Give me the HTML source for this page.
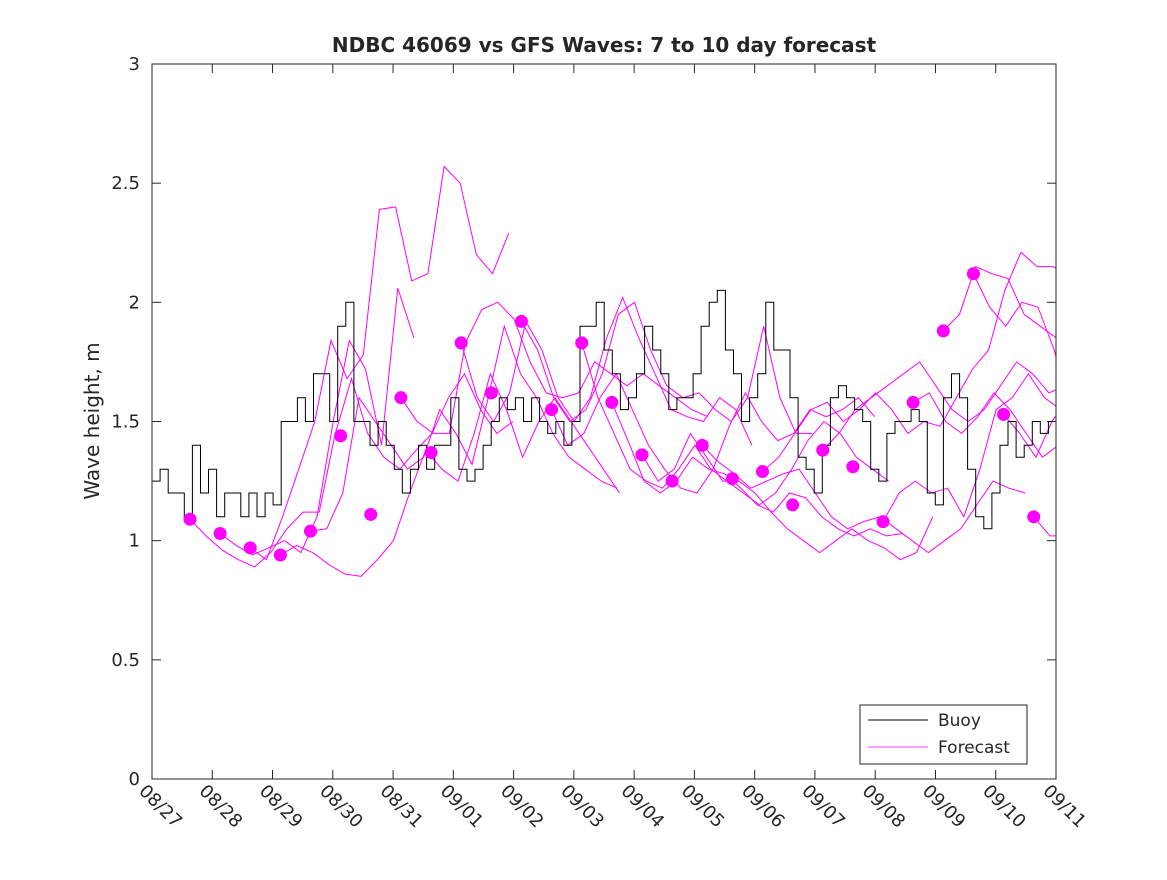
<!DOCTYPE html>
<html><head><meta charset="utf-8"><style>
body{margin:0;background:#fff;}
svg text{font-family:"DejaVu Sans","Liberation Sans",sans-serif;fill:#262626;}
</style></head><body>
<svg id="chart" width="1167" height="875" xmlns="http://www.w3.org/2000/svg">
<defs><clipPath id="pc"><rect x="152" y="64" width="904" height="715"/></clipPath></defs>
<rect x="0" y="0" width="1167" height="875" fill="#fff"/>
<text x="604" y="52" text-anchor="middle" font-size="20" font-weight="bold" fill="#000">NDBC 46069 vs GFS Waves: 7 to 10 day forecast</text>
<text transform="translate(99,421) rotate(-90)" text-anchor="middle" font-size="20">Wave height, m</text>
<g id="axes"></g>
<g id="marks" clip-path="url(#pc)"></g>
<rect x="152" y="64" width="904" height="715" fill="none" stroke="#262626" stroke-width="1"/>
<g>
<rect x="860" y="705" width="167" height="59" fill="#fff" stroke="#262626"/>
<line x1="868" y1="720" x2="928" y2="720" stroke="#000"/>
<text x="938" y="726" font-size="17">Buoy</text>
<line x1="868" y1="747" x2="928" y2="747" stroke="#f0f" stroke-width="0.8"/>
<text x="938" y="753" font-size="17">Forecast</text>
</g>
</svg>
<script>
const xTickLabels=["08/27","08/28","08/29","08/30","08/31","09/01","09/02","09/03","09/04","09/05","09/06","09/07","09/08","09/09","09/10","09/11"];
const yTicks=[0,0.5,1,1.5,2,2.5,3];
const buoyStep=0.134;
const buoyVals=[1.25,1.3,1.2,1.2,1.1,1.4,1.2,1.3,1.1,1.2,1.2,1.1,1.2,1.1,1.2,1.15,1.5,1.5,1.6,1.5,1.7,1.7,1.5,1.9,2.0,1.5,1.5,1.4,1.5,1.4,1.3,1.2,1.3,1.4,1.3,1.4,1.4,1.6,1.3,1.25,1.3,1.4,1.5,1.6,1.55,1.6,1.5,1.6,1.5,1.45,1.5,1.4,1.5,1.9,1.9,2.0,1.8,1.7,1.55,1.6,1.7,1.9,1.8,1.7,1.55,1.6,1.6,1.7,1.9,2.0,2.05,1.8,1.7,1.5,1.6,1.7,2.0,1.8,1.8,1.6,1.35,1.3,1.2,1.4,1.6,1.65,1.6,1.55,1.5,1.3,1.25,1.45,1.5,1.5,1.55,1.5,1.2,1.15,1.6,1.7,1.6,1.3,1.1,1.05,1.2,1.4,1.5,1.35,1.4,1.5,1.45,1.5,1.5];
const markerStart=0.63, markerStep=0.5;
const markerVals=[1.09,1.03,0.97,0.94,1.04,1.44,1.11,1.60,1.37,1.83,1.62,1.92,1.55,1.83,1.58,1.36,1.25,1.40,1.26,1.29,1.15,1.38,1.31,1.08,1.58,1.88,2.12,1.53,1.10];
const fcStep=0.268;
const fcStartMarker=[0,1,2,3,4,7,9,11,12,13,14,15,17,19,21,23,24,25,26,27,28];
const fcVals=[
[1.09,1.02,0.96,0.92,0.89,0.95,1.05,1.12,1.12,1.45,1.68,1.45,1.35,1.3,1.38,1.45,1.6,1.7,1.55,1.45,1.5],
[1.03,0.98,0.94,0.97,1.0,0.95,1.1,1.5,1.84,1.72,1.4,2.06,1.85],
[0.97,0.92,1.1,1.3,1.5,1.84,1.68,1.78,2.39,2.4,2.09,2.12,2.57,2.5,2.2,2.12,2.29],
[0.94,0.98,0.95,0.90,0.86,0.85,0.92,1.0,1.2,1.38,1.3,1.25,1.45,1.7,1.55,1.35,1.5,1.6,1.5,1.4,1.3,1.2],
[1.04,1.05,1.2,1.6,1.5,1.4,1.3,1.35,1.55,1.45,1.32,1.6,1.9,1.7,1.6,1.45,1.35,1.3,1.25,1.22],
[1.60,1.5,1.45,1.45,1.83,1.97,2.0,1.93,1.75,1.62,1.6,1.62,1.75,1.7,1.65,1.7,1.65,1.6,1.55,1.52],
[1.83,1.6,1.5,1.62,1.92,1.8,1.6,1.5,1.6,1.85,2.02,1.85,1.7,1.55,1.52,1.5,1.6,1.55,1.4],
[1.92,1.8,1.6,1.5,1.55,1.7,1.95,2.0,1.8,1.65,1.6,1.62,1.55,1.5,1.6,1.9,1.6,1.45,1.45],
[1.55,1.4,1.45,1.6,1.7,1.55,1.4,1.3,1.22,1.2,1.3,1.48,1.62,1.5,1.42,1.45,1.55,1.52,1.55,1.6,1.52],
[1.83,1.6,1.45,1.3,1.25,1.22,1.3,1.4,1.3,1.25,1.2,1.15,1.2,1.3,1.42,1.5,1.45,1.35,1.3,1.25],
[1.58,1.42,1.25,1.2,1.25,1.35,1.3,1.28,1.22,1.15,1.12,1.2,1.18,1.1,1.05,1.02,1.05,1.02,1.03],
[1.36,1.25,1.3,1.45,1.35,1.25,1.25,1.2,1.12,1.05,1.0,0.95,1.0,1.05,1.0,0.97,0.92,0.95,1.1],
[1.40,1.33,1.28,1.22,1.25,1.28,1.3,1.2,1.1,1.05,1.08,1.1,1.05,1.0,0.95,1.0,1.05,1.15,1.25,1.22,1.2],
[1.29,1.35,1.45,1.55,1.58,1.5,1.55,1.62,1.55,1.45,1.5,1.48,1.6,1.72,1.8,2.05,2.21,2.15,2.15,2.1],
[1.38,1.45,1.55,1.6,1.65,1.7,1.75,1.65,1.55,1.5,1.55,1.65,1.75,1.7,1.62,1.65,1.6,1.5,1.4],
[1.08,1.2,1.25,1.2,1.22,1.1,1.3,1.55,1.6,1.7,1.6,1.55,1.65,1.72,1.6,1.5,1.45],
[1.58,1.62,1.5,1.45,1.52,1.62,1.55,1.45,1.35,1.4,1.5,1.45,1.55,1.35,1.4,1.42],
[1.88,1.95,2.15,2.12,2.1,1.95,1.9,1.85,1.72,1.6,1.45,1.35,1.33,1.38],
[2.12,1.98,1.9,2.0,1.98,1.8,1.55,1.45,1.5,1.6,1.68,1.67],
[1.53,1.45,1.35,1.5,1.6,1.5,1.45,1.5,1.55],
[1.10,1.02,1.02,1.12]
];
const NS="http://www.w3.org/2000/svg";
const X0=152,X1=1056,Y0=779,Y1=64,DAYS=15,YMAX=3;
function xs(d){return X0+(X1-X0)*d/DAYS;}
function ys(v){return Y0-(Y0-Y1)*v/YMAX;}
const axes=document.getElementById('axes'),marks=document.getElementById('marks');
function mk(tag,attrs,parent){const e=document.createElementNS(NS,tag);for(const k in attrs)e.setAttribute(k,attrs[k]);parent.appendChild(e);return e;}
yTicks.forEach(v=>{
  const y=ys(v);
  const t=mk('line',{x1:X0,y1:y,x2:X0+9,y2:y,stroke:'#262626'},axes);
  
  
  const t2=mk('line',{x1:X1-9,y1:y,x2:X1,y2:y,stroke:'#262626'},axes);
  
  
  const l=mk('text',{x:X0-12,y:y+6,'text-anchor':'end','font-size':'18'},axes);
  l.textContent=String(v);
  
  
});
xTickLabels.forEach((s,i)=>{
  const x=xs(i);
  const t=mk('line',{x1:x,y1:Y0,x2:x,y2:Y0-9,stroke:'#262626'},axes);
  
  
  const t2=mk('line',{x1:x,y1:Y1,x2:x,y2:Y1+9,stroke:'#262626'},axes);
  
  
  const l=mk('text',{transform:`translate(${x-14},${Y0+13}) rotate(45)`,'font-size':'18'},axes);
  l.textContent=s;
  
  
});
fcVals.forEach((vals,k)=>{
  const sd=markerStart+markerStep*fcStartMarker[k];
  const pts=vals.map((v,i)=>xs(sd+i*fcStep).toFixed(1)+','+ys(v).toFixed(1)).join(' ');
  const p=mk('polyline',{points:pts,fill:'none',stroke:'#f0f','stroke-width':'1'},marks);
  
  
});
{
  let d='';
  buoyVals.forEach((v,i)=>{const x=xs(i*buoyStep),y=ys(v);
    if(i===0) d+='M'+x.toFixed(1)+','+y.toFixed(1);
    else d+=' V'+y.toFixed(1);
    d+=' H'+xs((i+1)*buoyStep).toFixed(1);});
  const p=mk('path',{d:d,fill:'none',stroke:'#000','stroke-width':'1'},marks);
  
  
}
markerVals.forEach((v,i)=>{
  const c=mk('circle',{cx:xs(markerStart+markerStep*i),cy:ys(v),r:6.5,fill:'#f0f'},marks);
  
  
});
</script>
</body></html>
